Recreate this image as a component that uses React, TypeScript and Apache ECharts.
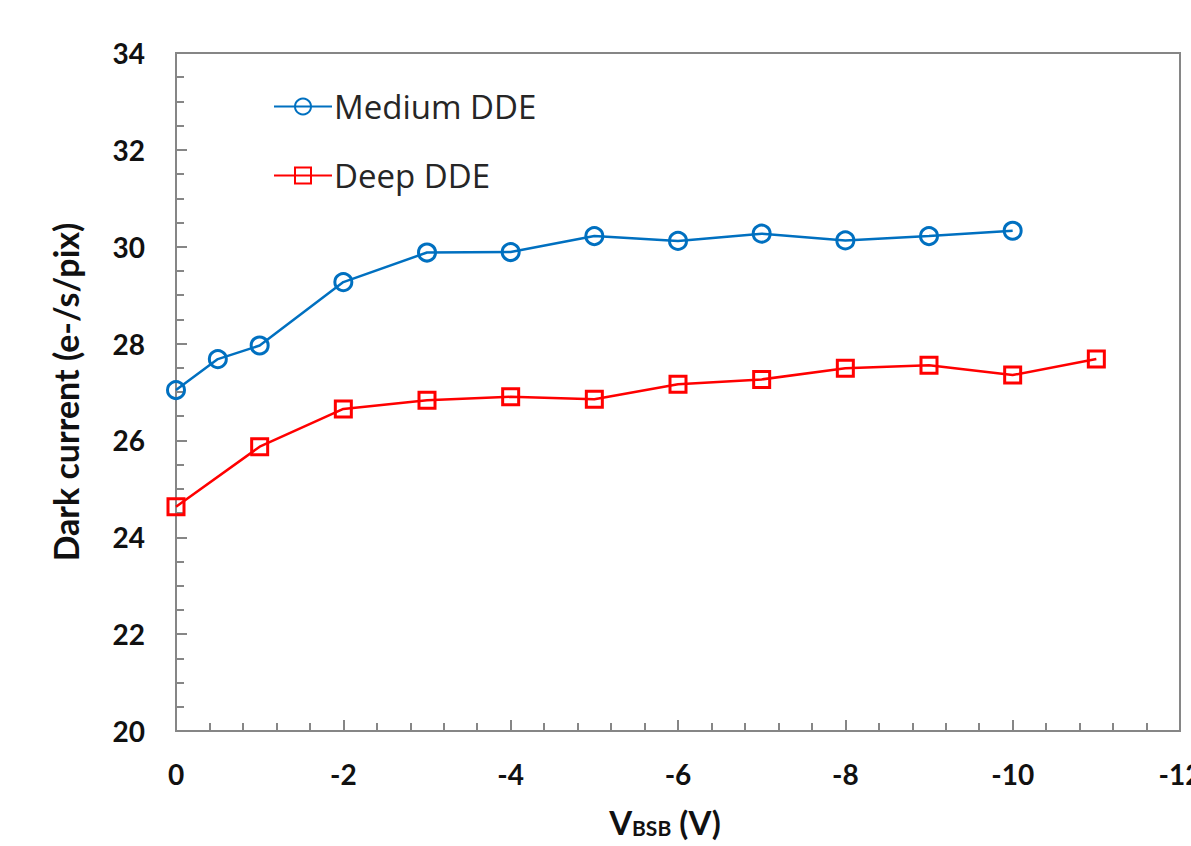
import React, { useEffect, useRef } from "react";
import * as echarts from "echarts";

// Back-side bias sweep (V) and measured dark current (e-/s/pix)
const biasMedium = [0, -0.5, -1, -2, -3, -4, -5, -6, -7, -8, -9, -10];
const mediumDDE = [27.04, 27.68, 27.96, 29.27, 29.88, 29.89, 30.22, 30.12, 30.27, 30.13, 30.22, 30.33];

const biasDeep = [0, -1, -2, -3, -4, -5, -6, -7, -8, -9, -10, -11];
const deepDDE = [24.63, 25.87, 26.65, 26.83, 26.9, 26.85, 27.16, 27.26, 27.49, 27.55, 27.35, 27.68];

const seriesNames = ["Medium DDE", "Deep DDE"];

const BLUE = "#0070C0";
const RED = "#FF0000";
const AXIS = "#868686";
const FONT = "Lato, 'Open Sans', sans-serif";

export default function App() {
  const ref = useRef<HTMLDivElement>(null);

  useEffect(() => {
    if (!ref.current) return;
    document.body.style.margin = "0";
    document.body.style.overflow = "hidden";
    const chart = echarts.init(ref.current, undefined, { renderer: "svg" });
    const pairs = (xs: number[], ys: number[]) => xs.map((x, i) => [x, ys[i]]);

    chart.setOption({
      animation: false,
      backgroundColor: "#ffffff",
      grid: {
        left: 176,
        right: 11,
        top: 53,
        bottom: 115,
        show: true,
        borderColor: AXIS,
        borderWidth: 2,
        containLabel: false,
        outerBoundsMode: "none",
      },
      legend: {
        orient: "vertical",
        left: 268,
        top: 85,
        itemWidth: 58,
        itemHeight: 20,
        itemGap: 36,
        data: seriesNames,
        textStyle: {
          fontFamily: "'Open Sans', sans-serif",
          fontSize: 33,
          color: "#262626",
          padding: [0, 0, 0, -3],
        },
      },
      xAxis: {
        type: "value",
        min: -12,
        max: 0,
        interval: 2,
        inverse: true,
        splitLine: { show: false },
        axisLine: { show: true, lineStyle: { color: AXIS, width: 2 } },
        axisTick: { show: true, inside: true, length: 11, lineStyle: { color: AXIS, width: 2 } },
        minorTick: { show: true, splitNumber: 5, length: 8, lineStyle: { color: AXIS, width: 2 } },
        axisLabel: {
          margin: 29,
          fontFamily: FONT,
          fontWeight: "bold",
          fontSize: 28,
          color: "#111111",
        },
        name: "{v|V}{s|BSB}{v| (V)}",
        nameLocation: "middle",
        nameGap: 74,
        nameTextStyle: {
          rich: {
            v: { fontFamily: FONT, fontWeight: "bold", fontSize: 33, color: "#111111" },
            s: {
              fontFamily: FONT,
              fontWeight: "bold",
              fontSize: 21,
              color: "#111111",
              verticalAlign: "bottom",
              padding: [12, 0, 0, 0],
            },
          },
          padding: [0, 26, 0, 0],
        },
      },
      yAxis: {
        type: "value",
        min: 20,
        max: 34,
        interval: 2,
        splitLine: { show: false },
        axisLine: { show: true, lineStyle: { color: AXIS, width: 2 } },
        axisTick: { show: true, inside: true, length: 11, lineStyle: { color: AXIS, width: 2 } },
        minorTick: { show: true, splitNumber: 4, length: 8, lineStyle: { color: AXIS, width: 2 } },
        axisLabel: {
          margin: 31,
          fontFamily: FONT,
          fontWeight: "bold",
          fontSize: 28,
          color: "#111111",
        },
        name: "Dark current (e-/s/pix)",
        nameLocation: "middle",
        nameGap: 94,
        nameTextStyle: {
          fontFamily: FONT,
          fontWeight: "bold",
          fontSize: 34,
          color: "#111111",
        },
      },
      series: [
        {
          name: seriesNames[0],
          type: "line",
          data: pairs(biasMedium, mediumDDE),
          symbol: "circle",
          symbolSize: 17,
          lineStyle: { color: BLUE, width: 2.5 },
          itemStyle: { color: "rgba(255,255,255,0)", borderColor: BLUE, borderWidth: 3 },
          emphasis: { disabled: true },
        },
        {
          name: seriesNames[1],
          type: "line",
          data: pairs(biasDeep, deepDDE),
          symbol: "rect",
          symbolSize: 16,
          lineStyle: { color: RED, width: 2.5 },
          itemStyle: { color: "rgba(255,255,255,0)", borderColor: RED, borderWidth: 3 },
          emphasis: { disabled: true },
        },
      ],
    });

    return () => chart.dispose();
  }, []);

  return (
    <div
      ref={ref}
      style={{ position: "fixed", left: 0, top: 0, width: 1191, height: 846, overflow: "hidden" }}
    />
  );
}
